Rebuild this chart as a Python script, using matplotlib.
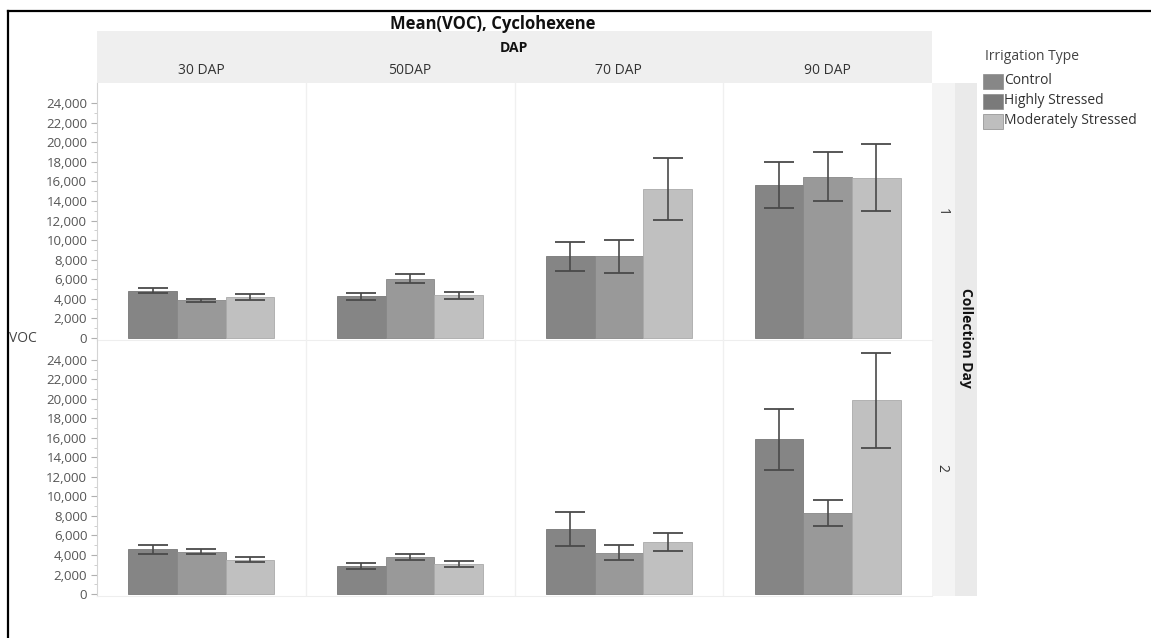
import matplotlib
matplotlib.use("Agg")
import matplotlib.pyplot as plt
from matplotlib.patches import Rectangle
from matplotlib.lines import Line2D
from matplotlib.ticker import FixedLocator, FuncFormatter
import numpy as np

plt.rcParams['font.family'] = ['Open Sans', 'DejaVu Sans']

# data
dap_labels = ["30 DAP", "50DAP", "70 DAP", "90 DAP"]
irrigation = ["Control", "Highly Stressed", "Moderately Stressed"]
day_labels = ["1", "2"]

# collection day 1
control_d1 = [4850, 4250, 8340, 15630]
highly_d1 = [3840, 6060, 8340, 16480]
moderate_d1 = [4190, 4350, 15220, 16370]
control_d1_err = [290, 395, 1515, 2300]
highly_d1_err = [175, 475, 1715, 2500]
moderate_d1_err = [325, 390, 3185, 3410]

# collection day 2
control_d2 = [4580, 2870, 6670, 15860]
highly_d2 = [4340, 3790, 4240, 8310]
moderate_d2 = [3490, 3050, 5330, 19860]
control_d2_err = [445, 280, 1700, 3100]
highly_d2_err = [260, 270, 785, 1315]
moderate_d2_err = [255, 290, 910, 4890]

means = [[control_d1, highly_d1, moderate_d1], [control_d2, highly_d2, moderate_d2]]
errs = [[control_d1_err, highly_d1_err, moderate_d1_err],
        [control_d2_err, highly_d2_err, moderate_d2_err]]

colors = ["#858585", "#999999", "#c0c0c0"]
edges = ["#777777", "#888888", "#aaaaaa"]
legend_colors = ["#878787", "#7a7a7a", "#bebebe"]

W, H = 1151, 638
fig = plt.figure(figsize=(W / 100, H / 100), dpi=100)


def box(x0, y0, x1, y1):
    # pixel box -> figure fraction
    return [x0 / W, 1 - y1 / H, (x1 - x0) / W, (y1 - y0) / H]


# outer frame (left and top edges visible)
fig.add_artist(Line2D([8 / W, 8 / W], [0, 1 - 11 / H], color="black", lw=1.6))
fig.add_artist(Line2D([8 / W, 1], [1 - 11 / H, 1 - 11 / H], color="black", lw=1.6))

# header band and right strips
fig.add_artist(Rectangle((97 / W, 1 - 83 / H), 835 / W, 52 / H, transform=fig.transFigure,
                         facecolor="#efefef", edgecolor="none", zorder=0))
fig.add_artist(Rectangle((932 / W, 1 - 596 / H), 23 / W, 513 / H, transform=fig.transFigure,
                         facecolor="#f4f4f4", edgecolor="none", zorder=0))
fig.add_artist(Rectangle((955 / W, 1 - 596 / H), 22 / W, 513 / H, transform=fig.transFigure,
                         facecolor="#eaeaea", edgecolor="none", zorder=0))

fig.text(493 / W, 1 - 24 / H, "Mean(VOC), Cyclohexene", ha="center", va="center",
         fontsize=12, fontweight="bold", color="#111111")
fig.text(514 / W, 1 - 48 / H, "DAP", ha="center", va="center",
         fontsize=10, fontweight="bold", color="#111111")

x = np.arange(len(dap_labels))
w = 0.233
col_w = 835 / 4
for i, lab in enumerate(dap_labels):
    fig.text((97 + col_w * (i + 0.5)) / W, 1 - 70 / H, lab, ha="center", va="center",
             fontsize=10, color="#333333")

rows = [(83, 340), (340, 596)]
for r, (y0, y1) in enumerate(rows):
    ax = fig.add_axes(box(97, y0, 932, y1))
    ax.set_facecolor("none")
    for j in range(3):
        ax.bar(x + (j - 1) * w, means[r][j], w, color=colors[j], edgecolor=edges[j],
               linewidth=0.6, label=irrigation[j], zorder=2)
        ax.errorbar(x + (j - 1) * w, means[r][j], yerr=errs[r][j], fmt="none",
                    ecolor="#4a4a4a", elinewidth=1.2, capsize=11, capthick=1.3, zorder=3)
    ax.set_xlim(-0.5, 3.5)
    ax.set_ylim(-205, 26050)
    for sep in [0.5, 1.5, 2.5]:
        ax.axvline(sep, color="#f0f0f0", lw=1, zorder=0)
    ax.yaxis.set_major_locator(FixedLocator(range(0, 24001, 2000)))
    ax.yaxis.set_minor_locator(FixedLocator(range(1000, 24000, 2000)))
    ax.yaxis.set_major_formatter(FuncFormatter(lambda v, p: f"{int(v):,}"))
    ax.set_xticks([])
    ax.tick_params(axis="y", which="major", length=4, width=0.8, color="#b0b0b0",
                   labelsize=9.5, labelcolor="#555555", pad=3)
    ax.tick_params(axis="y", which="minor", length=2, width=0.6, color="#c8c8c8")
    for s in ["top", "right"]:
        ax.spines[s].set_visible(False)
    ax.spines["left"].set_color("#d4d4d4")
    ax.spines["bottom"].set_color("#eeeeee")
    ax.text(1.0 + 10 / 835, 0.5, day_labels[r], transform=ax.transAxes, rotation=270,
            ha="center", va="center", fontsize=10, color="#333333")

fig.text(966 / W, 1 - 338 / H, "Collection Day", rotation=270, ha="center", va="center",
         fontsize=10, fontweight="bold", color="#111111")
fig.text(9 / W, 1 - 338 / H, "VOC", ha="left", va="center", fontsize=10, color="#444444")

# legend
fig.text(985 / W, 1 - 57 / H, "Irrigation Type", ha="left", va="center",
         fontsize=10, color="#444444")
for j, name in enumerate(irrigation):
    yc = 81 + 20 * j
    fig.add_artist(Rectangle((983 / W, 1 - (yc + 7.5) / H), 20 / W, 15 / H,
                             transform=fig.transFigure, facecolor=legend_colors[j],
                             edgecolor="#8a8a8a", lw=0.5))
    fig.text(1004 / W, 1 - yc / H, name, ha="left", va="center", fontsize=10,
             color="#333333")

fig.savefig("out.png", dpi=100)
